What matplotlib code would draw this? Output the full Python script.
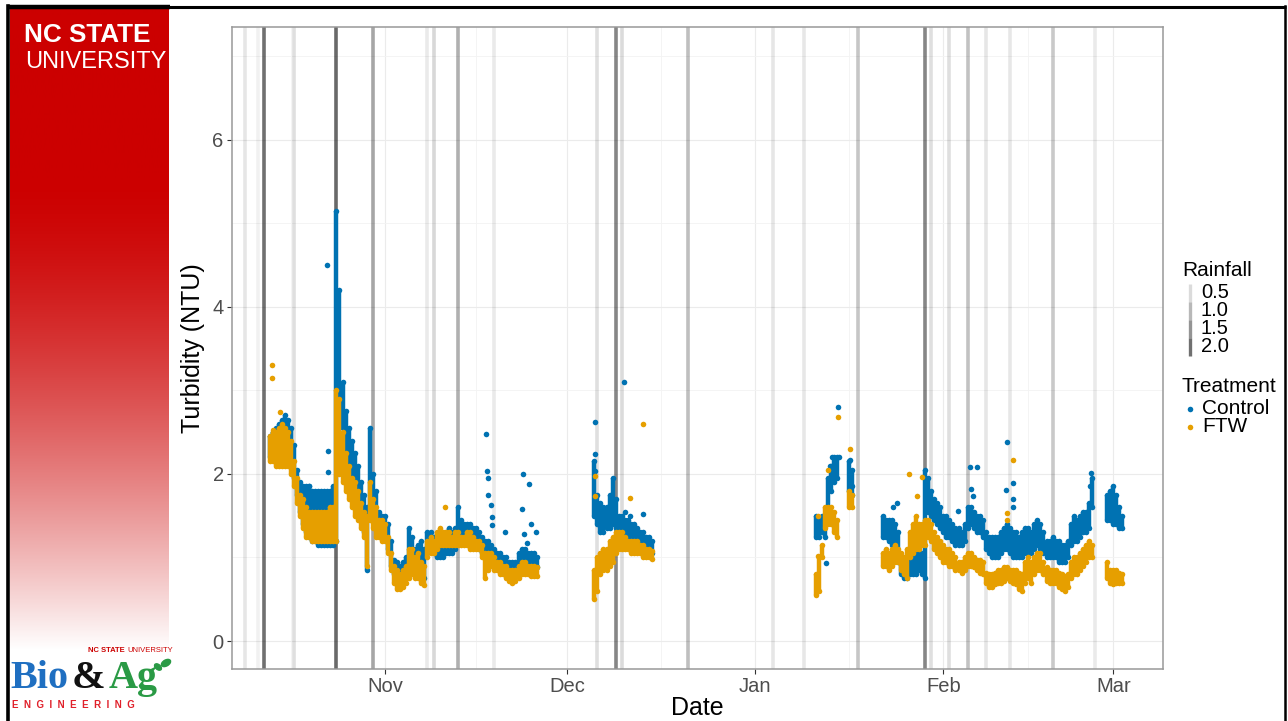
import numpy as np
import matplotlib.pyplot as plt
import matplotlib.dates as mdates
from matplotlib.patches import Ellipse

plt.rcParams['font.family'] = ['Liberation Sans', 'DejaVu Sans']

W, H = 1288, 721
t0 = np.datetime64('2018-10-01T00:00')   # day 0 for all day offsets below

# daily rainfall (in), drawn as vertical lines
rain_days = [8, 10, 11, 16, 23, 29, 38, 39, 43, 49, 66, 69, 70, 81,
             95, 100, 109, 120, 121, 124, 127, 130, 134, 141, 148]
rain_in = [0.35, 0.2, 2.0, 0.45, 2.1, 1.25, 0.3, 0.55, 1.1, 0.3, 0.45, 1.7, 0.5, 0.9,
           0.35, 0.33, 0.8, 1.7, 0.45, 0.45, 0.85, 0.35, 0.33, 0.75, 0.3]
rain_breaks = [0.5, 1.0, 1.5, 2.0]

# turbidity point clouds, every 12 h: (control low, control high, FTW low, FTW high)
seg1 = [
    (2.20, 2.45, 2.15, 2.45), (2.20, 2.50, 2.15, 2.50),   # Oct 13
    (2.20, 2.55, 2.10, 2.50), (2.25, 2.60, 2.10, 2.55),   # Oct 14
    (2.25, 2.65, 2.10, 2.60), (2.25, 2.70, 2.10, 2.55),   # Oct 15
    (2.25, 2.65, 2.10, 2.50), (2.10, 2.55, 2.00, 2.40),   # Oct 16
    (1.95, 2.35, 1.85, 2.15), (1.75, 2.05, 1.65, 1.95),   # Oct 17
    (1.55, 1.90, 1.50, 1.75), (1.40, 1.85, 1.35, 1.70),   # Oct 18
    (1.30, 1.85, 1.25, 1.60), (1.25, 1.85, 1.25, 1.55),   # Oct 19
    (1.20, 1.80, 1.20, 1.55), (1.20, 1.80, 1.20, 1.55),   # Oct 20
    (1.15, 1.80, 1.20, 1.55), (1.15, 1.80, 1.20, 1.55),   # Oct 21
    (1.15, 1.80, 1.20, 1.55), (1.15, 1.80, 1.20, 1.55),   # Oct 22
    (1.15, 1.80, 1.20, 1.60), (1.15, 1.85, 1.20, 1.60),   # Oct 23
    (1.20, 5.15, 1.20, 3.00), (2.60, 4.20, 2.00, 2.90),   # Oct 24
    (2.55, 3.10, 1.90, 2.50), (2.30, 2.75, 1.80, 2.25),   # Oct 25
    (2.10, 2.55, 1.70, 2.10), (2.00, 2.40, 1.60, 1.95),   # Oct 26
    (1.85, 2.25, 1.50, 1.90), (1.70, 2.10, 1.45, 1.80),   # Oct 27
    (1.50, 1.90, 1.35, 1.65), (1.30, 1.75, 1.25, 1.55),   # Oct 28
    (0.85, 1.60, 0.90, 1.50), (1.60, 2.55, 1.45, 1.90),   # Oct 29
    (1.50, 2.00, 1.35, 1.70), (1.40, 1.80, 1.25, 1.60),   # Oct 30
    (1.30, 1.55, 1.25, 1.45), (1.25, 1.50, 1.20, 1.45),   # Oct 31
    (1.25, 1.50, 1.20, 1.40), (1.10, 1.40, 1.05, 1.25),   # Nov 1
    (0.90, 1.20, 0.85, 1.05), (0.80, 0.97, 0.70, 0.90),   # Nov 2
    (0.72, 0.95, 0.62, 0.85), (0.70, 0.90, 0.62, 0.80),   # Nov 3
    (0.72, 0.95, 0.65, 0.85), (0.75, 1.00, 0.70, 0.90),   # Nov 4
    (0.85, 1.35, 0.75, 1.10), (0.90, 1.25, 0.80, 1.10),   # Nov 5
    (0.80, 1.10, 0.75, 1.00), (0.80, 1.15, 0.75, 1.05),   # Nov 6
    (0.75, 1.20, 0.70, 0.95), (0.75, 1.10, 0.67, 0.90),   # Nov 7
    (1.05, 1.30, 1.00, 1.20), (1.10, 1.30, 1.05, 1.25),   # Nov 8
    (1.05, 1.25, 1.05, 1.20), (1.00, 1.20, 1.10, 1.30),   # Nov 9
    (1.00, 1.20, 1.15, 1.35), (1.00, 1.25, 1.15, 1.30),   # Nov 10
    (1.05, 1.30, 1.15, 1.30), (1.05, 1.35, 1.15, 1.30),   # Nov 11
    (1.05, 1.30, 1.15, 1.25), (1.10, 1.35, 1.15, 1.30),   # Nov 12
    (1.20, 1.60, 1.15, 1.30), (1.20, 1.45, 1.15, 1.25),   # Nov 13
    (1.20, 1.40, 1.15, 1.25), (1.20, 1.40, 1.15, 1.30),   # Nov 14
    (1.15, 1.40, 1.10, 1.30), (1.15, 1.35, 1.10, 1.25),   # Nov 15
    (1.15, 1.35, 1.10, 1.20), (1.10, 1.30, 1.10, 1.20),   # Nov 16
    (1.05, 1.25, 1.00, 1.15), (1.05, 1.20, 0.75, 1.05),   # Nov 17
    (1.05, 1.20, 0.85, 1.05), (1.00, 1.15, 0.90, 1.05),   # Nov 18
    (0.95, 1.10, 0.85, 1.00), (0.95, 1.05, 0.85, 0.95),   # Nov 19
    (0.90, 1.05, 0.80, 0.95), (0.90, 1.00, 0.80, 0.90),   # Nov 20
    (0.85, 1.00, 0.75, 0.90), (0.85, 0.95, 0.72, 0.85),   # Nov 21
    (0.80, 0.95, 0.70, 0.85), (0.85, 0.95, 0.72, 0.85),   # Nov 22
    (0.90, 1.05, 0.75, 0.90), (0.95, 1.10, 0.80, 0.95),   # Nov 23
    (0.95, 1.10, 0.80, 0.95), (0.95, 1.05, 0.80, 0.90),   # Nov 24
    (0.90, 1.05, 0.78, 0.90), (0.90, 1.05, 0.78, 0.90),   # Nov 25
    (0.88, 1.00, 0.78, 0.88),                             # Nov 26
]
seg2 = [
    (1.50, 2.15, 0.50, 0.85), (1.40, 1.75, 0.60, 1.00),   # Dec 5-6
    (1.30, 1.65, 0.80, 1.05), (1.30, 1.60, 0.85, 1.10),
    (1.35, 1.60, 0.85, 1.10), (1.35, 1.75, 0.90, 1.20),
    (1.40, 1.95, 0.95, 1.25), (1.35, 1.70, 1.05, 1.30),
    (1.30, 1.50, 1.10, 1.30), (1.25, 1.50, 1.10, 1.30),
    (1.25, 1.45, 1.10, 1.25), (1.20, 1.45, 1.10, 1.20),
    (1.20, 1.40, 1.05, 1.20), (1.15, 1.40, 1.05, 1.20),
    (1.15, 1.35, 1.05, 1.20), (1.15, 1.30, 1.05, 1.15),
    (1.10, 1.30, 1.00, 1.15), (1.10, 1.25, 1.00, 1.10),
    (1.05, 1.25, 1.00, 1.10), (1.05, 1.20, 0.98, 1.08),   # Dec 15
]
seg3 = [
    (1.25, 1.50, 0.55, 0.80), (1.25, 1.45, 0.60, 1.00),   # Jan 11
    (1.30, 1.50, 1.00, 1.15), (1.25, 1.50, 1.35, 1.60),
    (1.50, 1.95, 1.40, 1.60), (1.80, 2.10, 1.40, 1.60),
    (1.90, 2.20, 1.30, 1.55), (1.95, 2.20, 1.25, 1.45),   # Jan 14
]
seg3b = [
    (1.80, 2.15, 1.60, 1.80), (1.75, 2.05, 1.60, 1.75),   # Jan 16-17
]
seg4 = [
    (1.25, 1.50, 0.90, 1.05), (1.25, 1.45, 0.90, 1.10),   # Jan 22
    (1.20, 1.45, 0.85, 1.05), (1.15, 1.45, 0.90, 1.10),
    (1.10, 1.40, 0.95, 1.15), (0.95, 1.30, 0.95, 1.10),
    (0.80, 1.00, 0.85, 1.05), (0.75, 0.95, 0.80, 1.00),
    (0.75, 0.95, 0.75, 1.10), (0.80, 1.05, 1.00, 1.30),
    (0.80, 1.10, 1.05, 1.40), (0.80, 1.15, 1.10, 1.50),
    (0.85, 1.15, 1.10, 1.40), (0.80, 1.05, 1.15, 1.40),
    (0.75, 2.05, 1.15, 1.45), (1.55, 1.95, 1.25, 1.45),   # Jan 29
    (1.50, 1.80, 1.20, 1.40), (1.45, 1.70, 1.10, 1.30),
    (1.40, 1.65, 1.05, 1.25), (1.35, 1.60, 1.00, 1.20),
    (1.30, 1.50, 0.95, 1.15), (1.25, 1.50, 0.95, 1.10),   # Feb 1
    (1.25, 1.45, 0.90, 1.10), (1.20, 1.40, 0.90, 1.05),
    (1.15, 1.35, 0.85, 1.00), (1.15, 1.35, 0.85, 0.95),
    (1.15, 1.30, 0.82, 0.95), (1.20, 1.40, 0.85, 1.00),
    (1.35, 1.60, 0.90, 1.05), (1.40, 1.60, 0.90, 1.05),   # Feb 5
    (1.35, 1.55, 0.88, 1.00), (1.30, 1.50, 0.85, 0.97),
    (1.30, 1.50, 0.82, 0.97), (1.25, 1.45, 0.80, 0.95),
    (1.10, 1.30, 0.70, 0.82), (1.05, 1.25, 0.65, 0.80),   # Feb 8
    (1.00, 1.25, 0.65, 0.80), (1.00, 1.25, 0.68, 0.82),
    (1.00, 1.25, 0.70, 0.85), (1.05, 1.30, 0.70, 0.85),
    (1.10, 1.35, 0.72, 0.88), (1.10, 1.40, 0.75, 0.88),
    (1.05, 1.35, 0.72, 0.85), (1.00, 1.30, 0.70, 0.85),   # Feb 12
    (1.00, 1.30, 0.68, 0.85), (1.00, 1.25, 0.62, 0.82),
    (1.00, 1.30, 0.60, 0.80), (1.05, 1.35, 0.70, 0.95),
    (1.05, 1.35, 0.75, 1.00), (1.05, 1.30, 0.70, 0.95),
    (1.10, 1.40, 0.80, 1.00), (1.15, 1.45, 0.85, 1.05),   # Feb 16
    (1.10, 1.40, 0.85, 1.05), (1.05, 1.30, 0.80, 0.95),
    (1.00, 1.20, 0.72, 0.88), (1.00, 1.20, 0.70, 0.85),
    (1.00, 1.25, 0.70, 0.85), (1.00, 1.20, 0.70, 0.85),
    (0.95, 1.20, 0.65, 0.82), (0.95, 1.15, 0.62, 0.80),   # Feb 20
    (0.95, 1.15, 0.60, 0.78), (1.00, 1.20, 0.65, 0.80),
    (1.15, 1.40, 0.75, 0.95), (1.20, 1.50, 0.80, 1.00),
    (1.20, 1.45, 0.80, 1.00), (1.25, 1.50, 0.85, 1.05),
    (1.30, 1.55, 0.90, 1.10), (1.30, 1.55, 0.95, 1.15),
    (1.35, 1.65, 1.00, 1.20), (1.60, 1.95, 1.00, 1.15),   # Feb 25
]
seg5 = [
    (1.45, 1.75, 0.75, 0.95), (1.45, 1.80, 0.70, 0.85),   # Feb 28
    (1.40, 1.85, 0.68, 0.85), (1.40, 1.75, 0.70, 0.85),
    (1.35, 1.60, 0.70, 0.82), (1.35, 1.50, 0.70, 0.80),   # Mar 2
]
seg_start = [12.0, 65.5, 102.0, 107.5, 113.0, 150.0]
segments = [seg1, seg2, seg3, seg3b, seg4, seg5]

# isolated readings (day offset, NTU)
ctrl_out_day = [18.5, 21.44, 21.56, 21.6, 47.64, 47.75, 47.97, 47.97, 48.46, 48.63, 48.63,
                50.77, 53.62, 53.73, 53.9, 54.4, 54.72, 55.05, 55.88,
                65.64, 65.64, 65.64, 70.44, 70.6, 71.4, 72.1, 73.58,
                103.72, 104.38, 104.66, 105.64, 105.8, 107.66, 107.66, 107.93,
                114.66, 115.32, 125.42, 127.4, 127.56, 127.89, 128.5, 133.33, 133.44,
                134.43, 134.43, 134.43, 147.17, 147.33]
ctrl_out_val = [1.86, 4.5, 2.27, 2.02, 2.48, 2.03, 1.95, 1.75, 1.63, 1.49, 1.39,
                1.3, 1.58, 2.0, 1.28, 1.17, 1.88, 1.4, 1.3,
                2.62, 2.24, 2.03, 3.1, 1.55, 1.5, 1.38, 1.52,
                0.93, 2.09, 2.2, 2.8, 2.2, 2.17, 2.02, 1.85,
                1.6, 1.65, 1.56, 2.08, 1.82, 1.73, 2.08, 1.81, 2.38,
                1.89, 1.7, 1.6, 1.85, 2.01]
ftw_out_day = [12.38, 12.38, 12.55, 13.7, 40.9,
               65.64, 65.64, 71.4, 73.58,
               102.4, 102.4, 104.05, 105.64, 107.54,
               117.3, 118.62, 119.44, 133.49, 133.49, 134.43]
ftw_out_val = [3.3, 3.15, 2.53, 2.74, 1.6,
               1.97, 1.73, 1.71, 2.6,
               1.5, 1.02, 2.05, 2.68, 2.3,
               2.0, 1.73, 1.96, 1.53, 1.45, 2.17]

ctrl_col = '#0072B2'
ftw_col = '#E69F00'


def when(days):
    mins = np.round(np.asarray(days, float) * 24 * 60).astype('int64')
    return t0 + mins.astype('timedelta64[m]')


fig = plt.figure(figsize=(W / 100, H / 100), dpi=100)

# slide background (pixel coordinates)
bg = fig.add_axes([0, 0, 1, 1], zorder=-1)
bg.set_xlim(0, W)
bg.set_ylim(H, 0)
bg.axis('off')

ys = np.arange(9, 651)
t = np.clip((ys - 180) / 470.0, 0, 1) ** 1.5
red = np.array([0.80, 0.0, 0.0])
grad = red[None, :] * (1 - t[:, None]) + t[:, None]
bg.imshow(grad[:, None, :], extent=(10, 169, 650, 9), aspect='auto', zorder=0)

bg.plot([8, 1286], [7, 7], color='black', lw=2.2, solid_capstyle='butt')
bg.plot([8, 170], [7, 7], color='black', lw=3.2, solid_capstyle='butt')
bg.plot([8.5, 8.5], [6, H], color='black', lw=2.6)
bg.plot([1285, 1285], [6, H], color='black', lw=1.8)

bg.text(24, 42, 'NC STATE', color='white', fontsize=18.8, fontweight='bold',
        va='baseline')
bg.text(25, 68, 'UNIVERSITY', color='white', fontsize=17, va='baseline')

# Bio&Ag logo
bg.text(125, 652, 'NC STATE', color='#cc0000', fontsize=5.5, fontweight='bold',
        va='baseline', ha='right')
bg.text(127, 652, 'UNIVERSITY', color='#cc0000', fontsize=5.5, va='baseline')
serif = ['Liberation Serif', 'DejaVu Serif']
bg.text(10, 688, 'Bio', color='#1f6fc1', fontsize=29, fontweight='bold',
        family=serif, va='baseline')
bg.text(72, 688, '&', color='#111111', fontsize=29, fontweight='bold',
        family=serif, va='baseline')
bg.text(109, 688, 'Ag', color='#2a9a45', fontsize=29, fontweight='bold',
        family=serif, va='baseline')
bg.add_patch(Ellipse((166, 663), 10, 6, angle=-30, color='#2a9a45'))
bg.add_patch(Ellipse((158, 667), 8, 5, angle=40, color='#2a9a45'))
bg.text(12, 708, 'E  N  G  I  N  E  E  R  I  N  G', color='#e0202a', fontsize=7.0,
        fontweight='bold', va='baseline')

# main panel
ax = fig.add_axes([232 / W, 1 - 669 / H, (1163 - 232) / W, (669 - 27) / H])
ax.set_facecolor('white')
ax.set_xlim(when(5.79), when(159.19))
ax.set_ylim(-0.335, 7.35)

for d, r in zip(rain_days, rain_in):
    ax.axvline(when(d), color='black', alpha=0.28 * r, lw=2.6, zorder=1.5)

for cols, col, z in [((0, 1), ctrl_col, 3), ((2, 3), ftw_col, 4)]:
    for start, rows in zip(seg_start, segments):
        rows = np.array(rows)
        days = start + 0.5 * np.arange(len(rows))
        lo, hi = rows[:, cols[0]], rows[:, cols[1]]
        ax.vlines(when(days), lo, hi, colors=col, lw=3.2, zorder=z)
        ax.scatter(when(days), lo, s=16, color=col, linewidths=0, zorder=z)
        ax.scatter(when(days), hi, s=16, color=col, linewidths=0, zorder=z)
ax.scatter(when(ctrl_out_day), ctrl_out_val, s=16, color=ctrl_col, linewidths=0, zorder=3)
ax.scatter(when(ftw_out_day), ftw_out_val, s=16, color=ftw_col, linewidths=0, zorder=4)

ax.xaxis.set_major_locator(mdates.MonthLocator())
ax.xaxis.set_major_formatter(mdates.DateFormatter('%b'))
ax.set_xticks(when([15.5, 46, 76.5, 107.5, 137]), minor=True)
ax.set_yticks([0, 2, 4, 6])
ax.set_yticks([1, 3, 5, 7], minor=True)
ax.set_axisbelow(True)
ax.grid(which='major', color='#ebebeb', lw=0.8)
ax.grid(which='minor', color='#f3f3f3', lw=0.6)
ax.tick_params(which='major', length=3.5, width=0.8, color='#333333',
               labelcolor='#4d4d4d', labelsize=14.5, pad=2.5)
ax.tick_params(which='minor', length=0)
for s in ax.spines.values():
    s.set_color('#999999')
    s.set_linewidth(1.1)

ax.set_xlabel('Date', fontsize=18, va='center')
ax.xaxis.set_label_coords(0.5, (669 - 708) / 642)
ax.set_ylabel('Turbidity (NTU)', fontsize=18, va='center')
ax.yaxis.set_label_coords((193 - 232) / 931, (669 - 348) / 642)

# legends (drawn in slide pixel coordinates)
bg.text(1182, 271, 'Rainfall', fontsize=15, va='center')
for i, r in enumerate(rain_breaks):
    y0 = 284 + i * 18
    bg.plot([1190, 1190], [y0, y0 + 18], color='black', alpha=0.28 * r, lw=2.4,
            solid_capstyle='butt')
    bg.text(1201, y0 + 9, f'{r:.1f}', fontsize=14.5, va='center')
bg.text(1182, 387, 'Treatment', fontsize=15, va='center')
for y, name, col in [(409, 'Control', ctrl_col), (427, 'FTW', ftw_col)]:
    bg.scatter([1190], [y], s=16, color=col, linewidths=0)
    bg.text(1202, y, name, fontsize=15, va='center')

fig.savefig('out.png', dpi=100)
